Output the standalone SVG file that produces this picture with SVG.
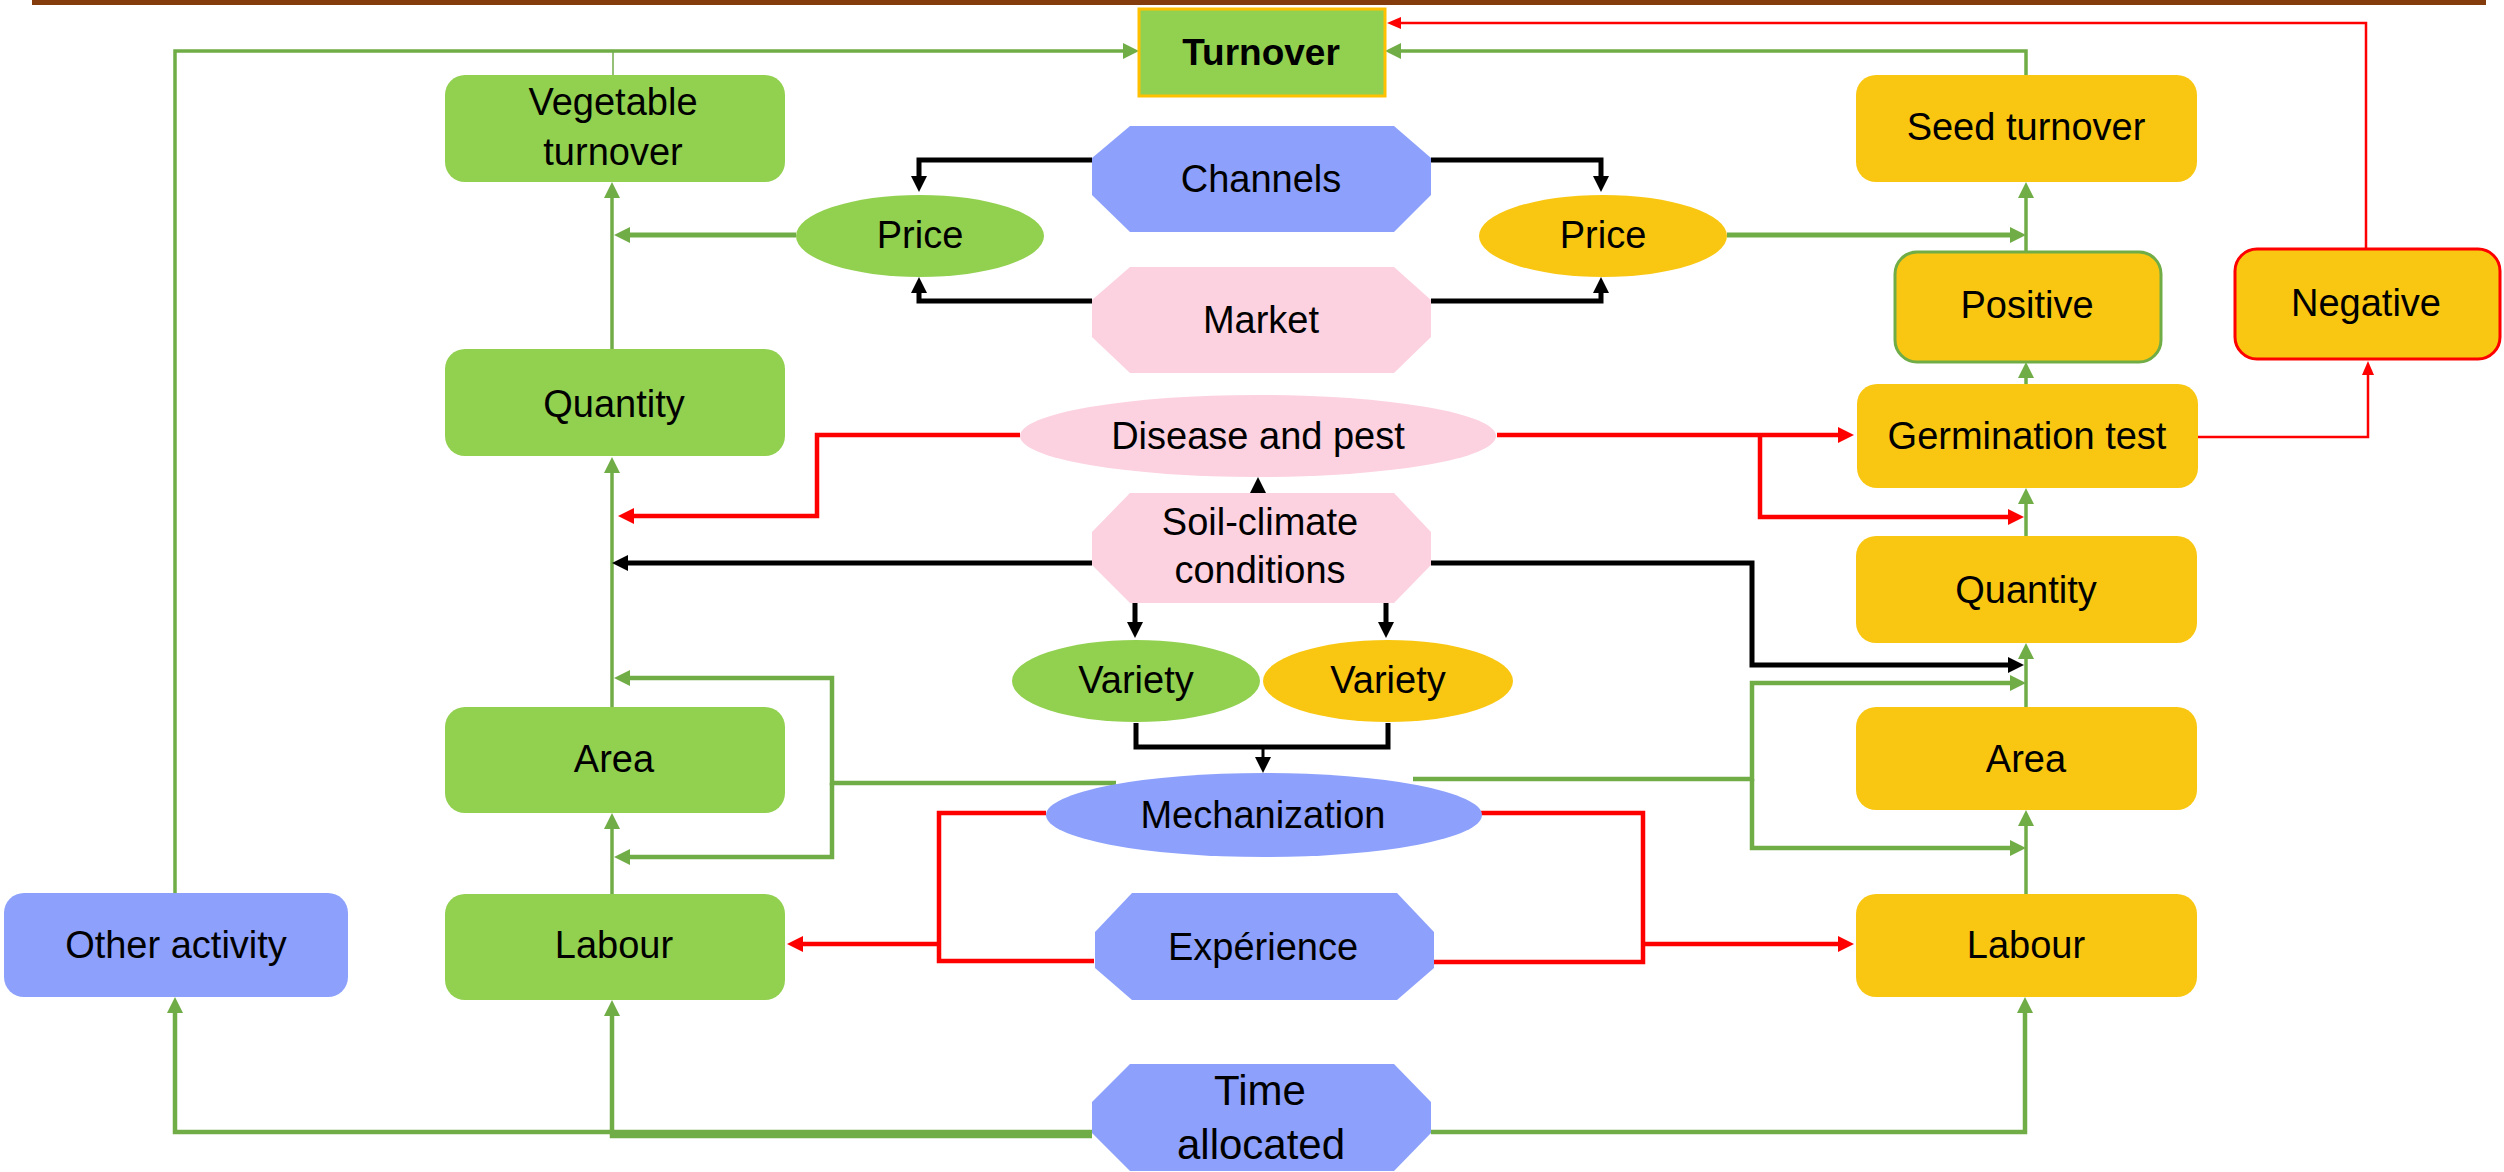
<svg xmlns="http://www.w3.org/2000/svg" width="2504" height="1172" viewBox="0 0 2504 1172">
  <style>
    .txt { font-family: "Liberation Sans", Arial, sans-serif; font-size: 38px; fill: #000; text-anchor: middle; }
    .big { font-size: 42px; }
    .bold { font-weight: bold; font-size: 37px; }
    .green { fill: #92D050; }
    .yellow { fill: #F9C712; }
    .blue { fill: #8DA1FC; }
    .pink { fill: #FCD1E0; }
    .ln { fill: none; stroke-linejoin: miter; stroke-linecap: butt; }
    .lg { stroke: #70AD47; stroke-width: 3.5; marker-end: url(#ah-green); }
    .lg-thick { stroke: #70AD47; stroke-width: 5; marker-end: url(#ah-green); }
    .lg-plain { stroke: #70AD47; stroke-width: 3.5; }
    .lb { stroke: #000; stroke-width: 5; marker-end: url(#ah-black); }
    .lb-plain { stroke: #000; stroke-width: 5; }
    .lr { stroke: #FF0000; stroke-width: 4.5; marker-end: url(#ah-red); }
    .lr-plain { stroke: #FF0000; stroke-width: 4.5; }
    .lr-thin { stroke: #FF0000; stroke-width: 2.5; marker-end: url(#ah-red-thin); }
  </style>
  <defs>
    <marker id="ah-green" markerUnits="userSpaceOnUse" viewBox="0 0 16 16" markerWidth="16" markerHeight="16" refX="4" refY="8" orient="auto">
      <path d="M0,0 L16,8 L0,16 z" fill="#70AD47"/>
    </marker>
    <marker id="ah-black" markerUnits="userSpaceOnUse" viewBox="0 0 16 16" markerWidth="16" markerHeight="16" refX="4" refY="8" orient="auto">
      <path d="M0,0 L16,8 L0,16 z" fill="#000"/>
    </marker>
    <marker id="ah-red" markerUnits="userSpaceOnUse" viewBox="0 0 16 16" markerWidth="16" markerHeight="16" refX="4" refY="8" orient="auto">
      <path d="M0,0 L16,8 L0,16 z" fill="#FF0000"/>
    </marker>
    <marker id="ah-red-thin" markerUnits="userSpaceOnUse" viewBox="0 0 14 12" markerWidth="14" markerHeight="12" refX="2" refY="6" orient="auto">
      <path d="M0,0 L14,6 L0,12 z" fill="#FF0000"/>
    </marker>
  </defs>

  <rect width="2504" height="1172" fill="#FFFFFF"/>
  <!-- header rule -->
  <rect x="32" y="0" width="2454" height="5" fill="#843C0C"/>

  <!-- connectors -->
  <g id="connectors" class="ln">
    <!-- green: into Turnover -->
    <path class="lg" d="M175,893 V51 H1127"/>
    <path class="lg-plain" style="stroke-width:1.5" d="M613,75 V51"/>
    <path class="lg" d="M2026,75 V51 H1397"/>
    <!-- green: vegetable chain -->
    <path class="lg" d="M612,349 V194"/>
    <path class="lg-thick" d="M796,235 H626"/>
    <path class="lg" d="M612,707 V469"/>
    <path class="lg" style="stroke-width:4.5" d="M1116,783 H832 V678 H626"/>
    <path class="lg" style="stroke-width:4.5" d="M832,783 V857 H626"/>
    <path class="lg" d="M612,894 V825"/>
    <path class="lg" style="stroke-width:4.5" d="M1092,1132 H175 V1009"/>
    <path class="lg" style="stroke-width:4.5" d="M1092,1136 H612 V1012"/>
    <!-- green: seed chain -->
    <path class="lg-thick" d="M1727,235 H2014"/>
    <path class="lg" d="M2026,252 V194"/>
    <path class="lg" d="M2026,384 V374"/>
    <path class="lg" d="M2026,536 V500"/>
    <path class="lg" d="M2026,707 V655"/>
    <path class="lg" style="stroke-width:4.5" d="M1413,779 H1752 V683 H2014"/>
    <path class="lg" style="stroke-width:4.5" d="M1752,779 V848 H2014"/>
    <path class="lg" d="M2026,894 V822"/>
    <path class="lg" style="stroke-width:4.5" d="M1431,1132 H2025 V1009"/>

    <!-- black: market, channels, soil-climate, varieties -->
    <path class="lb" d="M1092,160 H919 V180"/>
    <path class="lb" d="M1092,301 H919 V289"/>
    <path class="lb" d="M1431,160 H1601 V180"/>
    <path class="lb" d="M1431,301 H1601 V289"/>
    <path class="lb" d="M1092,563 H624"/>
    <path class="lb" d="M1431,563 H1752 V665 H2012"/>
    <path class="lb" style="stroke-width:3" d="M1258,493 V489"/>
    <path class="lb" d="M1260,600 H1135 V626"/>
    <path class="lb" d="M1260,600 H1386 V626"/>
    <path class="lb-plain" d="M1136,723 V747 H1388 V723"/>
    <path class="lb" style="stroke-width:3" d="M1263,747 V761"/>

    <!-- red: disease, germination, negative, mechanization, experience -->
    <path class="lr" d="M1020,435 H817 V516 H630"/>
    <path class="lr" d="M1497,435 H1842"/>
    <path class="lr" d="M1760,435 V517 H2012"/>
    <path class="lr-thin" d="M2198,437 H2368 V373"/>
    <path class="lr-thin" d="M2366,248 V23 H1399"/>
    <path class="lr-plain" d="M1046,813 H939 V961 H1094"/>
    <path class="lr" d="M939,944 H799"/>
    <path class="lr-plain" d="M1481,813 H1643 V962 H1434"/>
    <path class="lr" d="M1643,944 H1842"/>
  </g>

  <!-- nodes -->
  <g id="turnover">
    <rect x="1139" y="9" width="246" height="87" class="green" stroke="#FFC000" stroke-width="3"/>
    <text class="txt bold" x="1261" y="65">Turnover</text>
  </g>
  <g id="vegetable-turnover">
    <rect x="445" y="75" width="340" height="107" rx="20" class="green"/>
    <text class="txt" x="613" y="115">Vegetable</text>
    <text class="txt" x="613" y="165">turnover</text>
  </g>
  <g id="seed-turnover">
    <rect x="1856" y="75" width="341" height="107" rx="20" class="yellow"/>
    <text class="txt" x="2026" y="140">Seed turnover</text>
  </g>
  <g id="channels">
    <polygon class="blue" points="1130,126 1394,126 1431,158 1431,195 1394,232 1130,232 1092,195 1092,158"/>
    <text class="txt" x="1261" y="192">Channels</text>
  </g>
  <g id="market">
    <polygon class="pink" points="1130,267 1394,267 1431,300 1431,337 1394,373 1130,373 1092,337 1092,300"/>
    <text class="txt" x="1261" y="333">Market</text>
  </g>
  <g id="price-vegetable">
    <ellipse cx="920" cy="236" rx="124" ry="41" class="green"/>
    <text class="txt" x="920" y="248">Price</text>
  </g>
  <g id="price-seed">
    <ellipse cx="1603" cy="236" rx="124" ry="41" class="yellow"/>
    <text class="txt" x="1603" y="248">Price</text>
  </g>
  <g id="positive">
    <rect x="1895" y="252" width="266" height="110" rx="22" class="yellow" stroke="#70AD47" stroke-width="3"/>
    <text class="txt" x="2027" y="318">Positive</text>
  </g>
  <g id="negative">
    <rect x="2235" y="249" width="265" height="110" rx="22" class="yellow" stroke="#FF0000" stroke-width="3"/>
    <text class="txt" x="2366" y="316">Negative</text>
  </g>
  <g id="quantity-vegetable">
    <rect x="445" y="349" width="340" height="107" rx="20" class="green"/>
    <text class="txt" x="614" y="417">Quantity</text>
  </g>
  <g id="disease-pest">
    <ellipse cx="1258" cy="436" rx="238" ry="41" class="pink"/>
    <text class="txt" x="1258" y="449">Disease and pest</text>
  </g>
  <g id="germination-test">
    <rect x="1857" y="384" width="341" height="104" rx="20" class="yellow"/>
    <text class="txt" x="2027" y="449">Germination test</text>
  </g>
  <g id="soil-climate">
    <polygon class="pink" points="1130,493 1394,493 1431,532 1431,565 1394,603 1130,603 1092,565 1092,532"/>
    <text class="txt" x="1260" y="535">Soil-climate</text>
    <text class="txt" x="1260" y="583">conditions</text>
  </g>
  <g id="quantity-seed">
    <rect x="1856" y="536" width="341" height="107" rx="20" class="yellow"/>
    <text class="txt" x="2026" y="603">Quantity</text>
  </g>
  <g id="variety-vegetable">
    <ellipse cx="1136" cy="681" rx="124" ry="41" class="green"/>
    <text class="txt" x="1136" y="693">Variety</text>
  </g>
  <g id="variety-seed">
    <ellipse cx="1388" cy="681" rx="125" ry="41" class="yellow"/>
    <text class="txt" x="1388" y="693">Variety</text>
  </g>
  <g id="area-vegetable">
    <rect x="445" y="707" width="340" height="106" rx="20" class="green"/>
    <text class="txt" x="614" y="772">Area</text>
  </g>
  <g id="area-seed">
    <rect x="1856" y="707" width="341" height="103" rx="20" class="yellow"/>
    <text class="txt" x="2026" y="772">Area</text>
  </g>
  <g id="mechanization">
    <ellipse cx="1264" cy="815" rx="218" ry="42" class="blue"/>
    <text class="txt" x="1263" y="828">Mechanization</text>
  </g>
  <g id="other-activity">
    <rect x="4" y="893" width="344" height="104" rx="20" class="blue"/>
    <text class="txt" x="176" y="958">Other activity</text>
  </g>
  <g id="labour-vegetable">
    <rect x="445" y="894" width="340" height="106" rx="20" class="green"/>
    <text class="txt" x="614" y="958">Labour</text>
  </g>
  <g id="experience">
    <polygon class="blue" points="1132,893 1397,893 1434,932 1434,968 1397,1000 1132,1000 1095,968 1095,932"/>
    <text class="txt" x="1263" y="960">Expérience</text>
  </g>
  <g id="labour-seed">
    <rect x="1856" y="894" width="341" height="103" rx="20" class="yellow"/>
    <text class="txt" x="2026" y="958">Labour</text>
  </g>
  <g id="time-allocated">
    <polygon class="blue" points="1130,1064 1394,1064 1431,1102 1431,1133 1394,1171 1130,1171 1092,1133 1092,1102"/>
    <text class="txt big" x="1260" y="1105">Time</text>
    <text class="txt big" x="1261" y="1159">allocated</text>
  </g>
</svg>
